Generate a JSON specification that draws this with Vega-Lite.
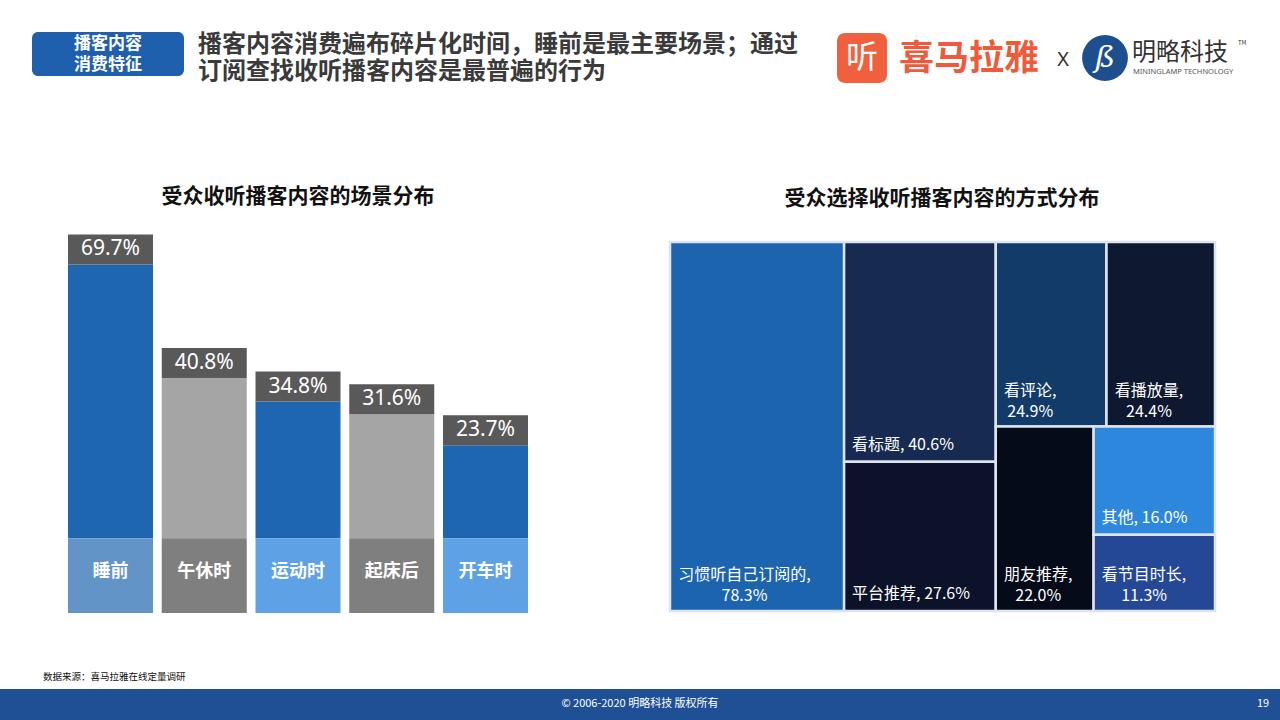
{
  "$schema": "https://vega.github.io/schema/vega-lite/v6.json",
  "width": 1280,
  "height": 720,
  "autosize": {"type": "fit", "contains": "padding"},
  "padding": 0,
  "background": "white",
  "config": {"view": {"stroke": null}, "font": "Noto Sans CJK SC"},
  "data": {"values": [{}]},
  "resolve": {"scale": {"x": "independent", "y": "independent", "color": "independent"}},
  "layer": [
    {"mark": {"type": "rect", "color": "#1f5096"}, "encoding": {"x": {"value": 0}, "x2": {"value": 1280}, "y": {"value": 689}, "y2": {"value": 720}}},
    {"mark": {"type": "text", "text": "© 2006-2020 明略科技 版权所有", "color": "white", "fontSize": 11, "align": "center", "baseline": "middle"}, "encoding": {"x": {"value": 640}, "y": {"value": 704}}},
    {"mark": {"type": "text", "text": "19", "color": "white", "fontSize": 11, "align": "center", "baseline": "middle"}, "encoding": {"x": {"value": 1263}, "y": {"value": 704}}},
    {"mark": {"type": "text", "text": "数据来源：喜马拉雅在线定量调研", "color": "#111111", "fontSize": 9.5, "align": "left", "baseline": "middle"}, "encoding": {"x": {"value": 43}, "y": {"value": 677}}},
    {"mark": {"type": "rect", "color": "#1f60ae", "cornerRadius": 6}, "encoding": {"x": {"value": 32}, "x2": {"value": 184}, "y": {"value": 32}, "y2": {"value": 76}}},
    {"mark": {"type": "text", "text": ["播客内容", "消费特征"], "color": "white", "fontSize": 17, "fontWeight": "bold", "lineHeight": 21, "align": "center", "baseline": "middle"}, "encoding": {"x": {"value": 108}, "y": {"value": 44}}},
    {"mark": {"type": "text", "text": ["播客内容消费遍布碎片化时间，睡前是最主要场景；通过", "订阅查找收听播客内容是最普遍的行为"], "color": "#3a3a3a", "fontSize": 24, "fontWeight": "bold", "lineHeight": 27, "align": "left", "baseline": "middle"}, "encoding": {"x": {"value": 198}, "y": {"value": 45}}},
    {"mark": {"type": "rect", "color": "#f0603f", "cornerRadius": 8}, "encoding": {"x": {"value": 837}, "x2": {"value": 887}, "y": {"value": 33}, "y2": {"value": 83}}},
    {"mark": {"type": "text", "text": "听", "color": "white", "fontSize": 32, "align": "center", "baseline": "middle"}, "encoding": {"x": {"value": 862}, "y": {"value": 58}}},
    {"mark": {"type": "text", "text": "喜马拉雅", "color": "#ee5a3a", "fontSize": 35, "fontWeight": "bold", "align": "left", "baseline": "middle"}, "encoding": {"x": {"value": 899}, "y": {"value": 59}}},
    {"mark": {"type": "text", "text": "X", "color": "#333333", "fontSize": 20, "font": "Noto Sans", "align": "center", "baseline": "middle"}, "encoding": {"x": {"value": 1063}, "y": {"value": 60}}},
    {"mark": {"type": "point", "shape": "circle", "filled": true, "color": "#1d4f8f", "opacity": 1, "size": 2100}, "encoding": {"x": {"value": 1105}, "y": {"value": 58}}},
    {"mark": {"type": "text", "text": "ß", "color": "white", "fontSize": 30, "fontStyle": "italic", "font": "DejaVu Serif", "align": "center", "baseline": "middle"}, "encoding": {"x": {"value": 1105}, "y": {"value": 58}}},
    {"mark": {"type": "text", "text": "明略科技", "color": "#333333", "fontSize": 24, "align": "left", "baseline": "middle"}, "encoding": {"x": {"value": 1132}, "y": {"value": 53}}},
    {"mark": {"type": "text", "text": "TM", "color": "#333333", "fontSize": 6, "align": "left", "baseline": "middle"}, "encoding": {"x": {"value": 1238}, "y": {"value": 43}}},
    {"mark": {"type": "text", "text": "MININGLAMP TECHNOLOGY", "color": "#555555", "fontSize": 7.5, "font": "Noto Sans", "align": "left", "baseline": "middle"}, "encoding": {"x": {"value": 1133}, "y": {"value": 72}}},
    {"mark": {"type": "text", "text": "受众收听播客内容的场景分布", "color": "#111111", "fontSize": 21, "fontWeight": "bold", "align": "center", "baseline": "middle"}, "encoding": {"x": {"value": 298}, "y": {"value": 197}}},
    {"mark": {"type": "text", "text": "受众选择收听播客内容的方式分布", "color": "#111111", "fontSize": 21, "fontWeight": "bold", "align": "center", "baseline": "middle"}, "encoding": {"x": {"value": 942}, "y": {"value": 199}}},
    {
      "data": {"values": [
        {"cat": "睡前", "v": 69.7},
        {"cat": "午休时", "v": 40.8},
        {"cat": "运动时", "v": 34.8},
        {"cat": "起床后", "v": 31.6},
        {"cat": "开车时", "v": 23.7}
      ]},
      "transform": [{"calculate": "format(datum.v, '.1f') + '%'", "as": "lbl"}],
      "encoding": {
        "x": {"field": "cat", "type": "nominal", "sort": null, "axis": null, "scale": {"range": [68, 528], "paddingInner": 0.0933, "paddingOuter": 0}}
      },
      "layer": [
        {
          "mark": {"type": "bar"},
          "encoding": {
            "y": {"field": "v", "type": "quantitative", "axis": null, "scale": {"domain": [-19, 90], "range": [613, 184.6], "nice": false, "zero": false}},
            "y2": {"datum": 0},
            "color": {"condition": {"test": "datum.cat === '午休时' || datum.cat === '起床后'", "value": "#a5a5a5"}, "value": "#1f66b0"}
          }
        },
        {
          "mark": {"type": "bar"},
          "encoding": {
            "y": {"datum": -19, "type": "quantitative", "axis": null, "scale": {"domain": [-19, 90], "range": [613, 184.6], "nice": false, "zero": false}},
            "y2": {"datum": 0},
            "color": {"condition": [{"test": "datum.cat === '睡前'", "value": "#6394c7"}, {"test": "datum.cat === '午休时' || datum.cat === '起床后'", "value": "#7f7f7f"}], "value": "#5ea1e4"}
          }
        },
        {
          "mark": {"type": "tick", "thickness": 30, "size": 85, "yOffset": -15, "color": "#595959", "opacity": 1},
          "encoding": {
            "y": {"field": "v", "type": "quantitative", "axis": null, "scale": {"domain": [-19, 90], "range": [613, 184.6], "nice": false, "zero": false}}
          }
        },
        {
          "mark": {"type": "text", "color": "white", "fontSize": 21, "font": "Noto Sans", "dy": -15, "baseline": "middle", "align": "center"},
          "encoding": {
            "y": {"field": "v", "type": "quantitative", "axis": null, "scale": {"domain": [-19, 90], "range": [613, 184.6], "nice": false, "zero": false}},
            "text": {"field": "lbl", "type": "nominal"}
          }
        },
        {
          "mark": {"type": "text", "color": "white", "fontSize": 18, "fontWeight": "bold", "baseline": "middle", "align": "center"},
          "encoding": {
            "y": {"datum": -8.5, "type": "quantitative", "axis": null, "scale": {"domain": [-19, 90], "range": [613, 184.6], "nice": false, "zero": false}},
            "text": {"field": "cat", "type": "nominal"}
          }
        }
      ]
    },
    {
      "data": {"values": [
        {"name": "习惯听自己订阅的", "value": 78.3, "g1": "A", "g2": "A", "g3": "A", "g4": "A"},
        {"name": "看标题", "value": 40.6, "g1": "B", "g2": "B1", "g3": "B1", "g4": "B1"},
        {"name": "平台推荐", "value": 27.6, "g1": "B", "g2": "B2", "g3": "B2", "g4": "B2"},
        {"name": "看评论", "value": 24.9, "g1": "C", "g2": "C1", "g3": "C1a", "g4": "C1a"},
        {"name": "看播放量", "value": 24.4, "g1": "C", "g2": "C1", "g3": "C1b", "g4": "C1b"},
        {"name": "朋友推荐", "value": 22.0, "g1": "C", "g2": "C2", "g3": "C2a", "g4": "C2a"},
        {"name": "其他", "value": 16.0, "g1": "C", "g2": "C2", "g3": "C2b", "g4": "C2b1"},
        {"name": "看节目时长", "value": 11.3, "g1": "C", "g2": "C2", "g3": "C2b", "g4": "C2b2"}
      ]},
      "transform": [
        {"stack": "value", "groupby": [], "sort": [{"field": "g1"}, {"field": "g2"}, {"field": "g3"}, {"field": "g4"}], "offset": "normalize", "as": ["s1a", "s1b"]},
        {"joinaggregate": [{"op": "min", "field": "s1a", "as": "X0"}, {"op": "max", "field": "s1b", "as": "X1"}], "groupby": ["g1"]},
        {"stack": "value", "groupby": ["g1"], "sort": [{"field": "g2"}, {"field": "g3"}, {"field": "g4"}], "offset": "normalize", "as": ["s2a", "s2b"]},
        {"joinaggregate": [{"op": "min", "field": "s2a", "as": "Y0"}, {"op": "max", "field": "s2b", "as": "Y1"}], "groupby": ["g1", "g2"]},
        {"stack": "value", "groupby": ["g1", "g2"], "sort": [{"field": "g3"}, {"field": "g4"}], "offset": "normalize", "as": ["s3a", "s3b"]},
        {"joinaggregate": [{"op": "min", "field": "s3a", "as": "F3a"}, {"op": "max", "field": "s3b", "as": "F3b"}], "groupby": ["g1", "g2", "g3"]},
        {"stack": "value", "groupby": ["g1", "g2", "g3"], "sort": [{"field": "g4"}], "offset": "normalize", "as": ["s4a", "s4b"]},
        {"calculate": "datum.X0 + datum.F3a * (datum.X1 - datum.X0)", "as": "x0"},
        {"calculate": "datum.X0 + datum.F3b * (datum.X1 - datum.X0)", "as": "x1"},
        {"calculate": "datum.Y0 + datum.s4a * (datum.Y1 - datum.Y0)", "as": "y0"},
        {"calculate": "datum.Y0 + datum.s4b * (datum.Y1 - datum.Y0)", "as": "y1"},
        {"calculate": "format(datum.value, '.1f') + '%'", "as": "pct"},
        {"calculate": "length(datum.name) * 16 + 58 > (datum.x1 - datum.x0) * 545 - 16", "as": "wrap"},
        {"calculate": "datum.wrap ? [datum.name + ',', datum.pct] : datum.name + ', ' + datum.pct", "as": "label"},
        {"calculate": "datum.wrap ? datum.x0 + (8 + (length(datum.name) * 16 + 5) / 2) / 545 : datum.x0 + 8 / 545", "as": "lx"}
      ],
      "layer": [
        {
          "mark": {"type": "rect", "stroke": "#dde4ee", "strokeWidth": 2.5},
          "encoding": {
            "x": {"field": "x0", "type": "quantitative", "axis": null, "scale": {"domain": [0, 1], "range": [670, 1215], "nice": false, "zero": false}},
            "x2": {"field": "x1"},
            "y": {"field": "y0", "type": "quantitative", "axis": null, "scale": {"domain": [0, 1], "range": [242, 611], "nice": false, "zero": false}},
            "y2": {"field": "y1"},
            "color": {"field": "name", "type": "nominal", "legend": null, "scale": {
              "domain": ["习惯听自己订阅的", "看标题", "平台推荐", "看评论", "看播放量", "朋友推荐", "其他", "看节目时长"],
              "range": ["#1d64ae", "#172a52", "#0b1229", "#123b69", "#0e1831", "#060b1a", "#2d87dd", "#244896"]}}
          }
        },
        {
          "transform": [{"filter": "datum.wrap"}],
          "mark": {"type": "text", "align": "center", "baseline": "middle", "dy": -36, "color": "white", "fontSize": 16, "lineHeight": 21},
          "encoding": {
            "x": {"field": "lx", "type": "quantitative", "axis": null, "scale": {"domain": [0, 1], "range": [670, 1215], "nice": false, "zero": false}},
            "y": {"field": "y1", "type": "quantitative", "axis": null, "scale": {"domain": [0, 1], "range": [242, 611], "nice": false, "zero": false}},
            "text": {"field": "label", "type": "nominal"}
          }
        },
        {
          "transform": [{"filter": "!datum.wrap"}],
          "mark": {"type": "text", "align": "left", "baseline": "middle", "dy": -17, "color": "white", "fontSize": 16, "lineHeight": 21},
          "encoding": {
            "x": {"field": "lx", "type": "quantitative", "axis": null, "scale": {"domain": [0, 1], "range": [670, 1215], "nice": false, "zero": false}},
            "y": {"field": "y1", "type": "quantitative", "axis": null, "scale": {"domain": [0, 1], "range": [242, 611], "nice": false, "zero": false}},
            "text": {"field": "label", "type": "nominal"}
          }
        }
      ]
    }
  ]
}
